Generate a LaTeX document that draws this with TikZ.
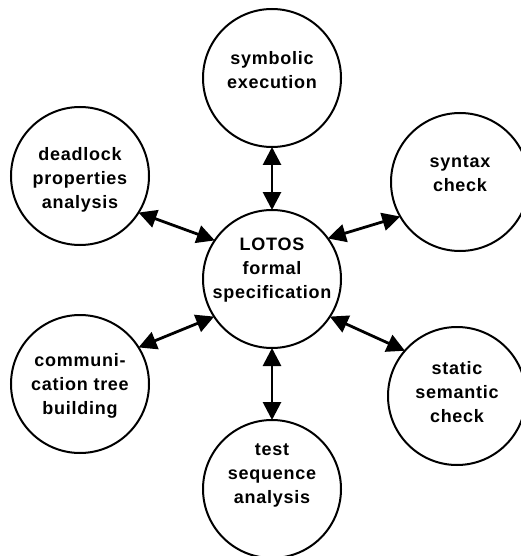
\documentclass[tikz,border=0pt]{standalone}
\usepackage{fontspec}
\setmainfont{Liberation Sans}[LetterSpace=4]
\usetikzlibrary{arrows.meta}
\tikzset{
  proc/.style={circle, draw, line width=2pt, minimum size=138pt, inner sep=0pt, outer sep=0pt},
  txt/.style={align=center, font=\fontsize{18}{24}\selectfont\bfseries, inner sep=0pt},
  link/.style={line width=2.8pt, {Triangle[length=18pt,width=18pt]}-{Triangle[length=18pt,width=18pt]}}
}
\begin{document}
\begin{tikzpicture}[x=1pt,y=-1pt]
\useasboundingbox (0,0) rectangle (521,556);
% processing tools arranged round the specification
\node[proc] (core) at (272,279) {};
\node[proc] (sym)  at (272,78)  {};
\node[proc] (dead) at (80,176)  {};
\node[proc] (syn)  at (460,182) {};
\node[proc] (comm) at (80,384)  {};
\node[proc] (stat) at (457,396) {};
\node[proc] (test) at (272,489) {};
% labels
\node[txt] (coret) at (272,270) {LOTOS\\formal\\specification};
\node[txt] (symt)  at (272,70)  {symbolic\\execution};
\node[txt] (deadt) at (80,180)  {deadlock\\properties\\analysis};
\node[txt] (synt)  at (460,174) {syntax\\check};
\node[txt] (commt) at (80,386)  {communi-\\cation tree\\building};
\node[txt] (statt) at (457,392) {static\\semantic\\check};
\node[txt] (testt) at (272,475) {test\\sequence\\analysis};
% links
\draw[link] (sym.south) -- (core.north);
\draw[link] (core.south) -- (test.north);
\draw[link] (dead.-32) -- (core.146);
\draw[link] (syn.210) -- (core.36);
\draw[link] (comm.32) -- (core.213);
\draw[link] (stat.139) -- (core.-33);
\end{tikzpicture}
\end{document}
